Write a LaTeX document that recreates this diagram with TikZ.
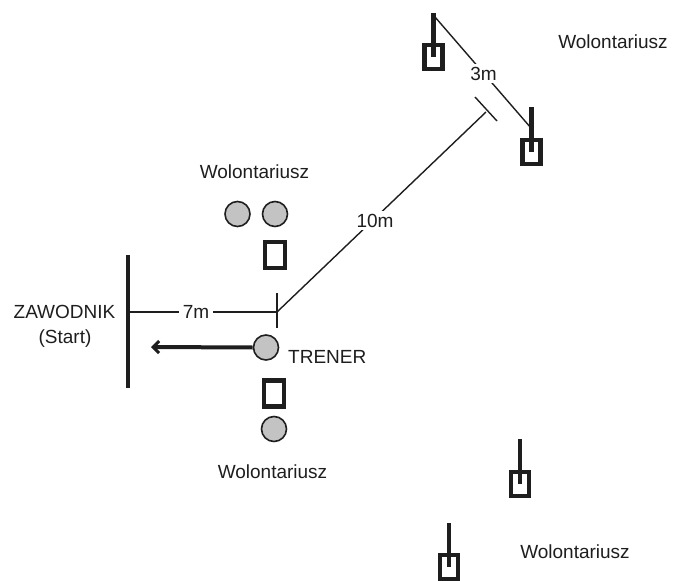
\documentclass[tikz,border=0pt]{standalone}
\usepackage{fontspec}
\setmainfont{Liberation Sans}
\usetikzlibrary{arrows.meta}
\definecolor{ink}{RGB}{30,30,30}
\definecolor{disc}{RGB}{195,195,195}
\begin{document}
\begin{tikzpicture}[x=1pt,y=-1pt,
  lbl/.style={font=\fontsize{19}{22}\selectfont, text=ink, inner sep=0pt, anchor=base},
  dimlbl/.style={lbl, fill=white, inner xsep=4pt, inner ysep=3pt},
  dimline/.style={draw=ink, line width=1.4pt},
  cone/.style={circle, draw=ink, line width=1.6pt, fill=disc, minimum size=25pt, inner sep=0pt},
  marker/.style={draw=ink, line width=4.2pt, fill=white, inner sep=0pt, minimum width=20pt, minimum height=26pt},
  flagbox/.style={draw=ink, line width=4.2pt, fill=white, inner sep=0pt, minimum width=18pt, minimum height=24pt},
  pole/.style={draw=ink, line width=4.2pt},
  startbar/.style={draw=ink, line width=4.5pt},
  runarrow/.style={draw=ink, line width=4pt, -{Straight Barb[length=6pt,width=12pt,line width=3pt]}},
]
\useasboundingbox (0,0) rectangle (673,581);

% flags (volunteers with poles)
\node[flagbox] (f1) at (433.5,57) {};
\node[flagbox] (f2) at (531.5,152) {};
\node[flagbox] (f3) at (520,484) {};
\node[flagbox] (f4) at (449,567) {};
\coordinate (p1) at (433.5,13);
\coordinate (p2) at (531.5,107);
\coordinate (p3) at (520,439);
\coordinate (p4) at (449,523);
\draw[pole] (p1) -- (f1.center);
\draw[pole] (p2) -- (f2.center);
\draw[pole] (p3) -- (f3.center);
\draw[pole] (p4) -- (f4.center);

% 3m line
\coordinate (a3) at (435,17);
\coordinate (b3) at (531,128);
\draw[dimline] (a3) -- (b3);
\node[dimlbl] (l3) at (483.5,80) {3m};

% start bar
\coordinate (s1) at (128,255);
\coordinate (s2) at (128,388);
\draw[startbar] (s1) -- (s2);

% 7m line and tick
\coordinate (h0) at (130,312);
\coordinate (h1) at (277,312);
\coordinate (t1) at (277,293);
\coordinate (t2) at (277,328);
\draw[dimline] (h0) -- (h1);
\draw[dimline] (t1) -- (t2);
\node[dimlbl] (l7) at (196,318) {7m};

% 10m line with T-bar
\coordinate (e10) at (486,112);
\coordinate (tb1) at (475,97);
\coordinate (tb2) at (497,121);
\draw[dimline] (h1) -- (e10);
\draw[dimline] (tb1) -- (tb2);
\node[dimlbl] (l10) at (375,227) {10m};

% cones and markers
\node[cone] (c1) at (237.5,214) {};
\node[cone] (c2) at (275,214) {};
\node[marker] (m1) at (275,255) {};
\node[cone] (ct) at (266,347.5) {};
\node[marker] (m2) at (274,393.5) {};
\node[cone] (c3) at (274,429) {};

% run arrow
\coordinate (arr) at (151,347);
\draw[runarrow] (ct.west) -- (arr);

% labels
\node[lbl] (zaw) at (64.5,318) {ZAWODNIK};
\node[lbl] (start) at (65,343) {(Start)};
\node[lbl, anchor=base west] (tren) at (288,363) {TRENER};
\node[lbl] (w1) at (254.5,178) {Wolontariusz};
\node[lbl] (w2) at (613,48) {Wolontariusz};
\node[lbl] (w3) at (272.5,478) {Wolontariusz};
\node[lbl] (w4) at (575,558) {Wolontariusz};
\end{tikzpicture}
\end{document}
